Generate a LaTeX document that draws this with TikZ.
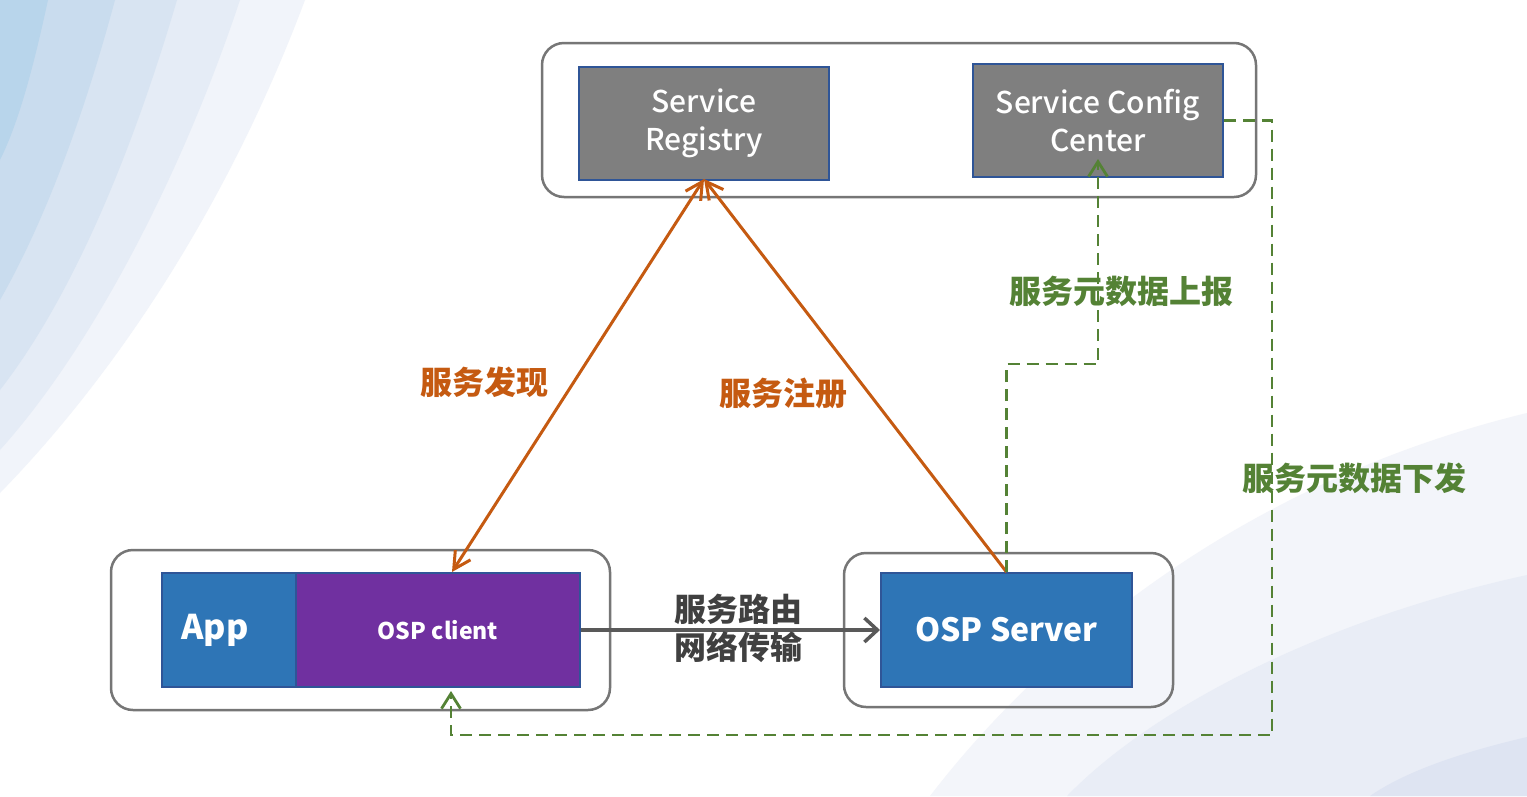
\documentclass[tikz,border=0pt]{standalone}
\usepackage{fontspec}
\setmainfont{Noto Sans CJK SC}
\newfontfamily\medfont{Noto Sans CJK SC Medium}
\usetikzlibrary{arrows.meta,calc}
\definecolor{cont}{HTML}{767676}
\definecolor{bordblue}{HTML}{2F5597}
\definecolor{boxgray}{HTML}{7F7F7F}
\definecolor{boxblue}{HTML}{2E75B6}
\definecolor{boxpurple}{HTML}{7030A0}
\definecolor{orangec}{HTML}{C55A11}
\definecolor{greenc}{HTML}{548235}
\definecolor{darkt}{HTML}{404040}
\definecolor{arrgray}{HTML}{595959}
\definecolor{tl1}{HTML}{B8D5EB}
\definecolor{tl2}{HTML}{C9DCEE}
\definecolor{tl3}{HTML}{D8E4F2}
\definecolor{tl4}{HTML}{E5ECF6}
\definecolor{tl5}{HTML}{F1F4FA}
\definecolor{br1}{HTML}{F3F5FA}
\definecolor{br2}{HTML}{E9EDF6}
\definecolor{br3}{HTML}{DEE4F2}
\tikzset{
  container/.style={draw=cont, line width=2.5pt, rounded corners=22pt, inner sep=0pt},
  solidbox/.style={draw=bordblue, line width=2pt, inner sep=0pt, text=white},
  oarrow/.style={draw=orangec, line width=3pt},
  gdash/.style={draw=greenc, line width=2.8pt, dash pattern=on 12pt off 7pt},
  obarb/.tip={Straight Barb[length=17pt,width=18pt,line width=3pt]},
  gbarb/.tip={Straight Barb[length=15pt,width=19pt,line width=2.8pt]},
  kbarb/.tip={Straight Barb[length=13pt,width=24pt,line width=3.5pt]},
  olabel/.style={text=orangec, font=\bfseries\fontsize{32}{38}\selectfont, inner sep=0pt},
  glabel/.style={text=greenc, font=\bfseries\fontsize{32}{38}\selectfont, inner sep=0pt},
}
\begin{document}
\begin{tikzpicture}[x=1pt,y=-1pt]
\useasboundingbox (0,0) rectangle (1527,796);
\fill[white] (0,0) rectangle (1527,796);
% background top-left
\fill[tl5] (0,0) -- (305,0) .. controls (230,200) and (120,370) .. (0,493) -- cycle;
\fill[tl4] (0,0) -- (240,0) .. controls (180,180) and (90,350) .. (0,450) -- cycle;
\fill[tl3] (0,0) -- (177,0) .. controls (130,160) and (70,300) .. (0,390) -- cycle;
\fill[tl2] (0,0) -- (115,0) .. controls (80,130) and (40,230) .. (0,300) -- cycle;
\fill[tl1] (0,0) -- (48,0) .. controls (35,60) and (20,120) .. (0,160) -- cycle;
% background bottom-right
\fill[br1] (1527,413) .. controls (1250,480) and (1050,640) .. (930,796) -- (1527,796) -- cycle;
\fill[br2] (1527,575) .. controls (1320,620) and (1150,710) .. (1067,796) -- (1527,796) -- cycle;
\fill[br3] (1527,737) .. controls (1450,755) and (1400,775) .. (1370,796) -- (1527,796) -- cycle;

% containers
\node[container, minimum width=714pt, minimum height=154pt] (topc) at (899,120) {};
\node[container, minimum width=499pt, minimum height=160pt] (appc) at (360.5,630) {};
\node[container, minimum width=329pt, minimum height=154pt] (srvc) at (1008.5,630) {};

% boxes
\node[solidbox, fill=boxgray, minimum width=250pt, minimum height=113pt, align=center,
  font=\medfont\fontsize{30}{38}\selectfont] (reg) at (704,123) {Service\\Registry};
\node[solidbox, fill=boxgray, minimum width=250pt, minimum height=113pt, align=center,
  font=\medfont\fontsize{30}{38}\selectfont] (cfg) at (1098,120.5) {Service Config\\Center};
\node[solidbox, fill=boxblue, minimum width=134pt, minimum height=114pt,
  font=\bfseries\fontsize{34}{40}\selectfont] (app) at (229,630) {App\kern28pt\relax};
\node[solidbox, fill=boxpurple, minimum width=284pt, minimum height=114pt,
  font=\bfseries\fontsize{23}{28}\selectfont] (client) at (438,630) {OSP client};
\node[solidbox, fill=boxblue, minimum width=251pt, minimum height=114pt,
  font=\bfseries\fontsize{32}{40}\selectfont] (srv) at (1006.5,630) {OSP Server};

% orange arrows
\draw[oarrow, obarb-obarb] ($(reg.south)+(0,-1.5)$) -- ($(client.north)+(14,0)$);
\draw[oarrow, -obarb] (srv.north) -- ($(reg.south)+(0,-1.5)$);

% gray arrow
\draw[draw=arrgray, line width=3.5pt, -kbarb] (client.east) -- (srv.west);

% green dashed paths
\draw[gdash, -gbarb] (srv.north) -- ++(0,-208) -| ($(cfg.south)+(0,-19)$);
\draw[gdash, -gbarb] (cfg.east) -- ++(48,0) -- ++(0,614.5) -| ($(client.south)+(13,3)$);

% labels
\node[olabel] (ldisc) at (484,382) {服务发现};
\node[olabel] (lreg) at (783,393) {服务注册};
\node[glabel] (lup) at (1121,291) {服务元数据上报};
\node[glabel] (ldown) at (1354,478) {服务元数据下发};
\node[text=darkt, font=\bfseries\fontsize{32}{38}\selectfont, align=center, inner sep=0pt] (lroute) at (738,628) {服务路由\\网络传输};
\end{tikzpicture}
\end{document}
